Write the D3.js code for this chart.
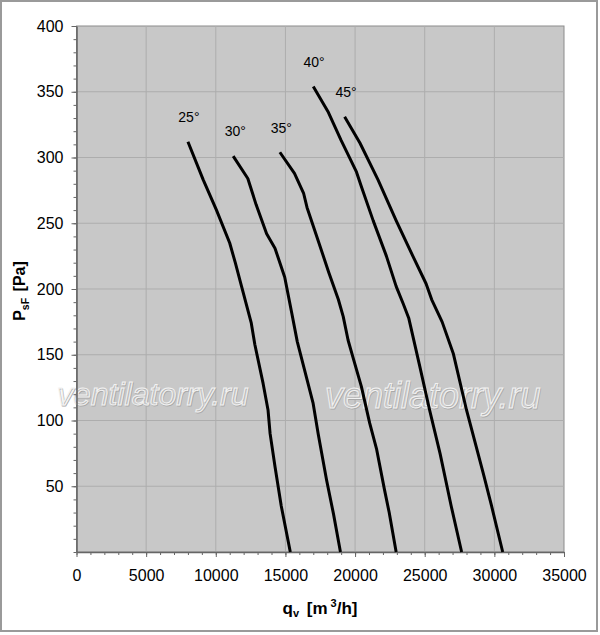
<!DOCTYPE html>
<html>
<head>
<meta charset="utf-8">
<script src="https://cdn.jsdelivr.net/npm/d3@7"></script>
<style>
  body { margin: 0; background: #fff; }
  svg { display: block; font-family: "Liberation Sans", Arial, sans-serif; }
</style>
</head>
<body>
<svg id="chart" width="600" height="635"></svg>
<script>
// blade angles and their curves
const angles = ['25°', '30°', '35°', '40°', '45°'];

const qv25 = [8000, 9100, 10050, 11000, 11400, 11850, 12550, 12800, 13400, 13750, 13900, 14250, 14700, 15350];
const ps25 = [312, 283, 260, 235, 220, 202, 174, 158, 128, 108, 90, 65, 35, 0];

const qv30 = [11250, 12300, 12900, 13650, 14250, 14950, 15450, 15850, 16990, 17350, 17950, 18450, 18950];
const ps30 = [301, 284, 264, 242, 231, 209, 182, 160, 113, 90, 55, 29, 0];

const qv35 = [14600, 15650, 16300, 16550, 17250, 18100, 18800, 19150, 19500, 19850, 20450, 21050, 21550, 22100, 22450, 22950];
const ps35 = [304, 288, 273, 262, 240, 213, 192, 179, 161, 148, 126, 98, 78, 48, 30, 0];

const qv40 = [17000, 18050, 19000, 20100, 20450, 21300, 22250, 22950, 23450, 23850, 24650, 25350, 26100, 26900, 27650];
const ps40 = [354, 335, 313, 289, 278, 252, 225, 202, 189, 178, 141, 108, 75, 35, 0];

const qv45 = [19250, 20350, 21650, 22950, 24150, 25100, 25500, 26250, 27050, 28000, 29200, 29800, 30600];
const ps45 = [331, 311, 283, 252, 225, 204, 192, 175, 151, 108, 60, 35, 0];

// where the angle labels sit (data units)
const labelQ = [8070, 11400, 14700, 17050, 19350];
const labelP = [327, 316, 319, 369, 346];

const xTicks = [0, 5000, 10000, 15000, 20000, 25000, 30000, 35000];
const yTicks = [50, 100, 150, 200, 250, 300, 350, 400];

const series = [[qv25, ps25], [qv30, ps30], [qv35, ps35], [qv40, ps40], [qv45, ps45]];

const svg = d3.select('#chart');
const plotLeft = 76.5, plotRight = 564, plotTop = 26, plotBottom = 552;

const x = d3.scaleLinear([0, 35000], [plotLeft, plotRight]);
const y = d3.scaleLinear([0, 400], [plotBottom, plotTop]);

// outer frame
svg.append('rect')
  .attr('x', 1).attr('y', 1).attr('width', 596).attr('height', 630)
  .attr('fill', '#fff').attr('stroke', '#9a9a9a').attr('stroke-width', 2);

// plot background
svg.append('rect')
  .attr('x', plotLeft).attr('y', plotTop).attr('width', plotRight - plotLeft).attr('height', plotBottom - plotTop)
  .attr('fill', '#c8c8c8').attr('stroke', '#8c8c8c').attr('stroke-width', 1);

// grid
let grid = svg.append('g').attr('stroke', '#adadad').attr('stroke-width', 1);
grid.selectAll('.gx').data(xTicks.slice(1, -1)).join('line')
  .attr('x1', d => x(d)).attr('x2', d => x(d)).attr('y1', plotTop).attr('y2', plotBottom);
grid.selectAll('.gy').data(yTicks.slice(0, -1)).join('line')
  .attr('x1', plotLeft).attr('x2', plotRight).attr('y1', d => y(d)).attr('y2', d => y(d));

// watermark
const marks = [
  { text: 'ventilatorry.ru', x: 57, y: 405, size: 32 },
  { text: 'ventilatorry.ru', x: 325, y: 408, size: 36 }
];
marks.forEach(m => {
  svg.append('text').text(m.text)
    .attr('x', m.x + 0.8).attr('y', m.y + 0.8)
    .attr('font-size', m.size).attr('font-style', 'italic')
    .attr('fill', 'none').attr('stroke', '#a9a9a9').attr('stroke-width', 1);
  svg.append('text').text(m.text)
    .attr('x', m.x).attr('y', m.y)
    .attr('font-size', m.size).attr('font-style', 'italic')
    .attr('fill', 'rgba(255,255,255,0.12)').attr('stroke', '#f2f2f2').attr('stroke-width', 1);
});

// minor ticks
svg.append('g').attr('transform', `translate(0,${plotBottom})`)
  .call(d3.axisBottom(x).ticks(35).tickSize(3).tickFormat('').tickSizeOuter(0))
  .call(g => g.select('.domain').remove())
  .call(g => g.selectAll('line').attr('stroke', '#666'));
svg.append('g').attr('transform', `translate(${plotLeft},0)`)
  .call(d3.axisLeft(y).ticks(40).tickSize(3).tickFormat('').tickSizeOuter(0))
  .call(g => g.select('.domain').remove())
  .call(g => g.selectAll('line').attr('stroke', '#666'));

// main axes
let xAxis = svg.append('g').attr('transform', `translate(0,${plotBottom})`)
  .call(d3.axisBottom(x).tickValues(xTicks).tickSize(5).tickPadding(13).tickSizeOuter(0).tickFormat(d3.format('d')));
let yAxis = svg.append('g').attr('transform', `translate(${plotLeft},0)`)
  .call(d3.axisLeft(y).tickValues(yTicks).tickSize(5).tickPadding(8).tickSizeOuter(0));
[xAxis, yAxis].forEach(a => {
  a.attr('font-family', null).attr('font-size', 16);
  a.select('.domain').attr('stroke', '#666').attr('stroke-width', 1.6);
  a.selectAll('line').attr('stroke', '#666');
  a.selectAll('text').attr('fill', '#000');
});

// curves
const line = d3.line().x(d => x(d[0])).y(d => y(d[1]));
svg.append('g').selectAll('path').data(series).join('path')
  .attr('d', s => line(d3.zip(s[0], s[1])))
  .attr('fill', 'none').attr('stroke', '#000').attr('stroke-width', 3)
  .attr('stroke-linejoin', 'round').attr('stroke-linecap', 'butt');

// angle labels
svg.append('g').selectAll('text').data(angles).join('text')
  .attr('x', (d, i) => x(labelQ[i])).attr('y', (d, i) => y(labelP[i]))
  .attr('text-anchor', 'middle').attr('font-size', 14).text(d => d);

// axis titles
let xt = svg.append('text').attr('x', 320).attr('y', 614)
  .attr('text-anchor', 'middle').attr('font-weight', 'bold').attr('font-size', 17);
xt.append('tspan').text('q');
xt.append('tspan').text('v').attr('font-size', 11).attr('dy', 3);
xt.append('tspan').text(' [m').attr('dx', 3).attr('dy', -3);
xt.append('tspan').text('3').attr('font-size', 11).attr('dx', 3).attr('dy', -7);
xt.append('tspan').text('/h]').attr('dy', 7);

let yt = svg.append('text').attr('transform', 'translate(25,291) rotate(-90)')
  .attr('text-anchor', 'middle').attr('font-weight', 'bold').attr('font-size', 16);
yt.append('tspan').text('P');
yt.append('tspan').text('sF').attr('font-size', 10.5).attr('dy', 3.5);
yt.append('tspan').text(' [Pa]').attr('dx', 2).attr('dy', -3.5);
</script>
</body>
</html>
